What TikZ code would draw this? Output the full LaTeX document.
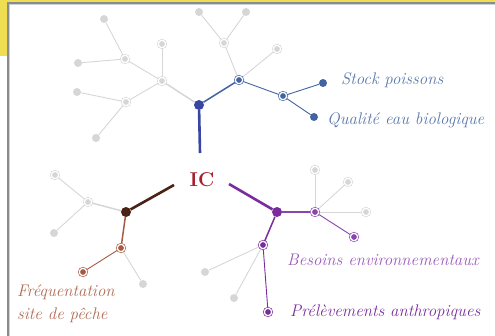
\documentclass[tikz,border=0pt]{standalone}
\usepackage{tikz}
\usetikzlibrary{backgrounds}
\definecolor{frameyellow}{HTML}{F0DE52}
\definecolor{framegray}{HTML}{888C8E}
\definecolor{treegray}{HTML}{D6D6D6}
\definecolor{bluedark}{HTML}{3746A2}
\definecolor{bluemid}{HTML}{4264A2}
\definecolor{bluetext}{HTML}{5A78AA}
\definecolor{browndark}{HTML}{4A2216}
\definecolor{brownmid}{HTML}{A65A40}
\definecolor{browntext}{HTML}{B06A52}
\definecolor{purpledark}{HTML}{7A2C9C}
\definecolor{purplemid}{HTML}{8A44AE}
\definecolor{purpletext}{HTML}{9A5AB8}
\definecolor{icred}{HTML}{A8202E}
\tikzset{
  root dot/.style={
    circle, inner sep=0pt, minimum size=10pt, fill=#1, draw=none
  },
  leaf dot/.style={
    circle, inner sep=0pt, minimum size=8pt, fill=#1, draw=none
  },
  ring/.style={
    circle, inner sep=0pt, minimum size=7.4pt, fill=#1, draw=#1,
    double=white, double distance=1.3pt, line width=0.65pt
  },
  trunk/.style={line width=2.6pt, draw=#1},
  branch/.style={line width=1.5pt, draw=#1},
  twig/.style={line width=0.9pt, draw=#1},
  label text/.style={
    anchor=west, inner sep=0pt, text=#1,
    font=\fontsize{16.8}{23}\selectfont\itshape, align=left
  },
}

\begin{document}
\begin{tikzpicture}[x=1pt, y=-1pt]

  % frame
  \useasboundingbox (0,0) rectangle (495,336);
  \fill[frameyellow] (0,0) rectangle (8,56);
  \fill[frameyellow] (0,0) rectangle (495,2.2);
  \draw[framegray, line width=2pt] (8,336) -- (8,3.2) -- (495,3.2);
  \draw[framegray!40, line width=0.6pt] (9.6,336) -- (9.6,4.6) -- (495,4.6);

  \node[font=\fontsize{20}{24}\selectfont\bfseries, text=icred] (ic) at (202,180) {IC};

  % blue tree
  \node[root dot=bluedark] (broot) at (199,105) {};
  \coordinate (btop) at (200,153);
  \node[ring=bluemid]     (b1) at (239,80)  {};
  \node[ring=bluemid]     (b2) at (283,96)  {};
  \node[leaf dot=bluemid] (b3) at (323,83)  {};
  \node[leaf dot=bluemid] (b4) at (314,117) {};

  \node[ring=treegray]     (ga) at (162,81)  {};
  \node[ring=treegray]     (gb) at (162,44)  {};
  \node[ring=treegray]     (gc) at (125,59)  {};
  \node[leaf dot=treegray] (gd) at (104,19)  {};
  \node[leaf dot=treegray] (ge) at (78,63)   {};
  \node[ring=treegray]     (gf) at (126,102) {};
  \node[leaf dot=treegray] (gg) at (77,92)   {};
  \node[leaf dot=treegray] (gh) at (96,138)  {};
  \node[ring=treegray]     (gi) at (224,43)  {};
  \node[leaf dot=treegray] (gj) at (199,12)  {};
  \node[leaf dot=treegray] (gk) at (246,12)  {};
  \node[ring=treegray]     (gl) at (277,49)  {};

  \node[label text=bluetext] (stock)   at (341,80)  {Stock poissons};
  \node[label text=bluetext] (qualite) at (327,120) {Qualité eau biologique};

  % brown tree
  \node[root dot=browndark] (rroot) at (126,212) {};
  \coordinate (rtop) at (174,185);
  \node[ring=brownmid] (r1) at (121,248) {};
  \node[ring=brownmid] (r2) at (83,272)  {};

  \node[ring=treegray]     (gm) at (88,202)  {};
  \node[ring=treegray]     (gn) at (55,175)  {};
  \node[leaf dot=treegray] (go) at (54,233)  {};
  \node[leaf dot=treegray] (gp) at (143,284) {};

  \node[label text=browntext] (freq) at (17,304)
    {Fréquentation\\site de pêche};

  % purple tree
  \node[root dot=purpledark] (proot) at (277,212) {};
  \coordinate (ptop) at (229,184);
  \node[ring=purplemid] (p1) at (315,212) {};
  \node[ring=purplemid] (p2) at (354,237) {};
  \node[ring=purpledark] (p3) at (263,245) {};
  \node[ring=purpledark] (p4) at (268,312) {};

  \node[ring=treegray]     (gq) at (315,170) {};
  \node[ring=treegray]     (gr) at (348,182) {};
  \node[ring=treegray]     (gs) at (366,212) {};
  \node[leaf dot=treegray] (gt) at (205,272) {};
  \node[leaf dot=treegray] (gu) at (234,298) {};

  \node[label text=purpletext] (besoins) at (287,260) {Besoins environnementaux};
  \node[label text=purpledark] (prelev)  at (290,312) {Prélèvements anthropiques};

  \begin{scope}[on background layer]
    \draw[trunk=bluedark]   (broot) -- (btop);
    \draw[branch=bluemid]   (broot) -- (b1);
    \draw[twig=bluemid]     (b1) -- (b2);
    \draw[twig=bluemid]     (b2) -- (b3);
    \draw[twig=bluemid]     (b2) -- (b4);
    \draw[branch=treegray]  (broot) -- (ga);
    \draw[twig=treegray]    (ga) -- (gb);
    \draw[twig=treegray]    (ga) -- (gc);
    \draw[twig=treegray]    (gc) -- (gd);
    \draw[twig=treegray]    (gc) -- (ge);
    \draw[twig=treegray]    (ga) -- (gf);
    \draw[twig=treegray]    (gf) -- (gg);
    \draw[twig=treegray]    (gf) -- (gh);
    \draw[twig=treegray]    (b1) -- (gi);
    \draw[twig=treegray]    (gi) -- (gj);
    \draw[twig=treegray]    (gi) -- (gk);
    \draw[twig=treegray]    (b1) -- (gl);

    \draw[trunk=browndark]  (rroot) -- (rtop);
    \draw[branch=brownmid]  (rroot) -- (r1);
    \draw[twig=brownmid]    (r1) -- (r2);
    \draw[branch=treegray]  (rroot) -- (gm);
    \draw[twig=treegray]    (gm) -- (gn);
    \draw[twig=treegray]    (gm) -- (go);
    \draw[twig=treegray]    (r1) -- (gp);

    \draw[trunk=purpledark]  (proot) -- (ptop);
    \draw[branch=purplemid]  (proot) -- (p1);
    \draw[twig=purplemid]    (p1) -- (p2);
    \draw[branch=purpledark] (proot) -- (p3);
    \draw[twig=purpledark]   (p3) -- (p4);
    \draw[twig=treegray]     (p1) -- (gq);
    \draw[twig=treegray]     (p1) -- (gr);
    \draw[twig=treegray]     (p1) -- (gs);
    \draw[twig=treegray]     (p3) -- (gt);
    \draw[twig=treegray]     (p3) -- (gu);
  \end{scope}

\end{tikzpicture}
\end{document}
